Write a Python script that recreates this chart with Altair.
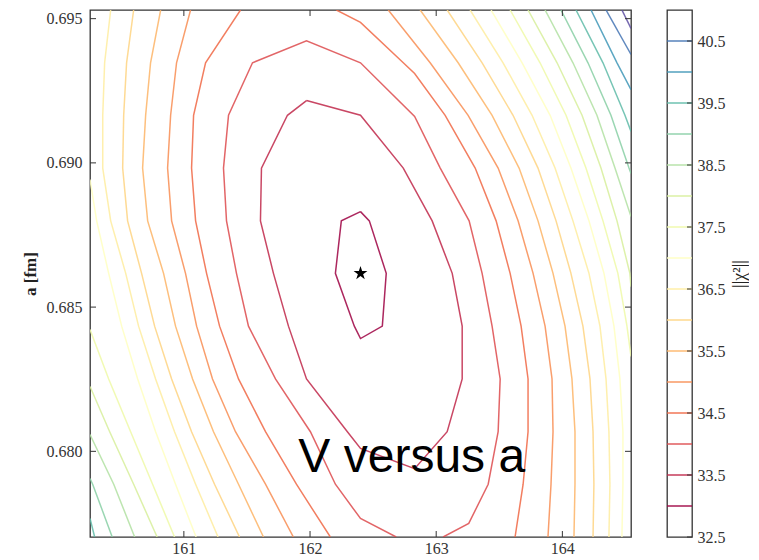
import altair as alt
import pandas as pd

# ---------------- data ----------------
V_MIN, V_MAX = 160.256, 164.544
A_MIN, A_MAX = 0.67703, 0.69530

X_TICKS = [161, 162, 163, 164]
Y_TICKS = [0.680, 0.685, 0.690, 0.695]
CB_TICKS = [32.5, 33.5, 34.5, 35.5, 36.5, 37.5, 38.5, 39.5, 40.5]

LEVELS = [33.0, 33.5, 34.0, 34.5, 35.0, 35.5, 36.0, 36.5, 37.0,
          37.5, 38.0, 38.5, 39.0, 39.5, 40.0, 40.5, 41.0]
COLORS = ["#9e0142", "#c02749", "#dd4a4c", "#f06744", "#f88d52", "#fdb466",
          "#fed481", "#feec9f", "#ffffbf", "#eff9a7", "#d7ef9b", "#b2e0a2",
          "#88cfa4", "#5fbba8", "#3f97b7", "#4373b3", "#5e4fa2"]
CB_LEVELS = [33.0, 33.5, 34.0, 34.5, 35.0, 35.5, 36.0, 36.5,
             37.0, 37.5, 38.0, 38.5, 39.0, 39.5, 40.0, 40.5]

# a-values of the rows where the contour polylines bend
ROW_A = [0.69530, 0.69347, 0.69165, 0.68982, 0.68799, 0.68617,
         0.68434, 0.68251, 0.68068, 0.67886, 0.67703]

c330_V = [162.400, 162.470, 162.604, 162.573, 162.400, 162.351, 162.201, 162.248, 162.400]
c330_a = [0.68831, 0.68799, 0.68617, 0.68434, 0.68391, 0.68434, 0.68617, 0.68799, 0.68831]

c335_V = [161.972, 161.821, 161.615, 161.607, 161.710, 161.829, 161.972, 162.296, 162.400,
          162.829, 163.087, 163.206, 163.206, 163.127, 162.968, 162.739, 162.400, 161.972]
c335_a = [0.69216, 0.69165, 0.68982, 0.68799, 0.68617, 0.68434, 0.68251, 0.68068, 0.68010,
          0.67940, 0.68068, 0.68251, 0.68434, 0.68617, 0.68799, 0.68982, 0.69165, 0.69216]

c340_V = [162.683, 162.400, 162.201, 162.003, 161.726, 161.512, 161.417, 161.338, 161.314,
          161.354, 161.544, 161.972, 162.400, 162.829, 163.032, 163.261, 163.364, 163.443,
          163.507, 163.491, 163.412, 163.258, 163.055]
c340_a = [0.67703, 0.67767, 0.67886, 0.68068, 0.68251, 0.68434, 0.68617, 0.68799, 0.68982,
          0.69165, 0.69347, 0.69423, 0.69347, 0.69161, 0.68982, 0.68799, 0.68617, 0.68434,
          0.68251, 0.68068, 0.67886, 0.67750, 0.67703]

c345L_V = [161.449, 161.172, 161.077, 161.061, 161.093, 161.180, 161.283, 161.433, 161.647, 161.892, 162.161]
c345R_V = [162.209, 162.400, 162.739, 162.829, 163.071, 163.309, 163.475, 163.586, 163.673,
           163.728, 163.728, 163.689, 163.625]
c345R_a = [0.69530, 0.69487, 0.69347, 0.69310, 0.69165, 0.68982, 0.68799, 0.68617, 0.68434,
           0.68251, 0.68068, 0.67886, 0.67703]

c350L_V = [161.053, 160.942, 160.895, 160.871, 160.903, 161.013, 161.101, 161.227, 161.409, 161.647, 161.868]
c350R_V = [162.620, 162.952, 163.253, 163.491, 163.649, 163.768, 163.863, 163.918, 163.926, 163.910, 163.886]
c355L_V = [160.816, 160.736, 160.697, 160.673, 160.713, 160.839, 160.934, 161.069, 161.235, 161.433, 161.631]
c355R_V = [162.873, 163.174, 163.443, 163.657, 163.807, 163.926, 164.021, 164.076, 164.100, 164.100, 164.092]
c360L_V = [160.602, 160.546, 160.523, 160.515, 160.554, 160.665, 160.768, 160.903, 161.061, 161.243, 161.441]
c360R_V = [163.087, 163.364, 163.609, 163.807, 163.950, 164.068, 164.163, 164.219, 164.243, 164.250, 164.243]
c365L_V = [160.420, 160.372, 160.357, 160.357, 160.420, 160.539, 160.641, 160.776, 160.926, 161.093, 161.271]
c365R_V = [163.269, 163.530, 163.760, 163.942, 164.084, 164.211, 164.298, 164.346, 164.369, 164.377, 164.369]
c370R_V = [163.435, 163.681, 163.903, 164.068, 164.211, 164.330, 164.409, 164.456, 164.480, 164.480, 164.472]

c370L_V = [160.256, 160.309, 160.404, 160.507, 160.634, 160.776, 160.934, 161.097]
c370L_a = [0.68942, 0.68799, 0.68617, 0.68434, 0.68251, 0.68068, 0.67886, 0.67703]
c375L_V = [160.256, 160.404, 160.578, 160.752, 160.926]
c375L_a = [0.68422, 0.68251, 0.68068, 0.67886, 0.67703]
c375R_V = [163.586, 163.823, 164.029, 164.187, 164.322, 164.440, 164.512, 164.544]
c375R_a = [0.69530, 0.69347, 0.69165, 0.68982, 0.68799, 0.68617, 0.68434, 0.68329]
c380L_V = [160.256, 160.412, 160.602, 160.788]
c380L_a = [0.68225, 0.68068, 0.67886, 0.67703]
c380R_V = [163.728, 163.958, 164.156, 164.306, 164.433, 164.535, 164.544]
c380R_a = [0.69530, 0.69347, 0.69165, 0.68982, 0.68799, 0.68617, 0.68571]
c385L_V = [160.256, 160.444, 160.610]
c385L_a = [0.68058, 0.67886, 0.67703]
c385R_V = [163.863, 164.084, 164.274, 164.417, 164.544]
c385R_a = [0.69530, 0.69347, 0.69165, 0.68982, 0.68814]
c390L_V = [160.256, 160.277, 160.432]
c390L_a = [0.67906, 0.67886, 0.67703]
c390R_V = [163.989, 164.203, 164.385, 164.528, 164.544]
c390R_a = [0.69530, 0.69347, 0.69165, 0.68982, 0.68963]
c395L_V = [160.256, 160.293]
c395L_a = [0.67767, 0.67703]
c395R_V = [164.108, 164.322, 164.496, 164.544]
c395R_a = [0.69530, 0.69347, 0.69165, 0.69109]
c400R_V = [164.227, 164.433, 164.544]
c400R_a = [0.69530, 0.69347, 0.69254]
c405R_V = [164.346, 164.544]
c405R_a = [0.69530, 0.69376]
c410R_V = [164.472, 164.544]
c410R_a = [0.69530, 0.69466]

STAR_V, STAR_A = [162.400], [0.68617]
LABEL_V, LABEL_A, LABEL_TEXT = [162.806], [0.67930], ["V versus a"]

PIECES = [
    (33.0, "33.0", c330_V, c330_a),
    (33.5, "33.5", c335_V, c335_a),
    (34.0, "34.0", c340_V, c340_a),
    (34.5, "34.5L", c345L_V, ROW_A),
    (34.5, "34.5R", c345R_V, c345R_a),
    (35.0, "35.0L", c350L_V, ROW_A),
    (35.0, "35.0R", c350R_V, ROW_A),
    (35.5, "35.5L", c355L_V, ROW_A),
    (35.5, "35.5R", c355R_V, ROW_A),
    (36.0, "36.0L", c360L_V, ROW_A),
    (36.0, "36.0R", c360R_V, ROW_A),
    (36.5, "36.5L", c365L_V, ROW_A),
    (36.5, "36.5R", c365R_V, ROW_A),
    (37.0, "37.0L", c370L_V, c370L_a),
    (37.0, "37.0R", c370R_V, ROW_A),
    (37.5, "37.5L", c375L_V, c375L_a),
    (37.5, "37.5R", c375R_V, c375R_a),
    (38.0, "38.0L", c380L_V, c380L_a),
    (38.0, "38.0R", c380R_V, c380R_a),
    (38.5, "38.5L", c385L_V, c385L_a),
    (38.5, "38.5R", c385R_V, c385R_a),
    (39.0, "39.0L", c390L_V, c390L_a),
    (39.0, "39.0R", c390R_V, c390R_a),
    (39.5, "39.5L", c395L_V, c395L_a),
    (39.5, "39.5R", c395R_V, c395R_a),
    (40.0, "40.0R", c400R_V, c400R_a),
    (40.5, "40.5R", c405R_V, c405R_a),
    (41.0, "41.0R", c410R_V, c410R_a),
]

# ---------------- build tables ----------------
rows = []
for lvl, piece, vs, avals in PIECES:
    for i, (v, a) in enumerate(zip(vs, avals)):
        rows.append({"level": f"{lvl:.1f}", "piece": piece, "i": i, "V": v, "a": a})
contours = pd.DataFrame(rows)

W, H = 541, 527
CBW = 25
SERIF = "Liberation Serif"
TICK = "#333333"

xscale = alt.Scale(domain=[V_MIN, V_MAX], nice=False, zero=False)
yscale = alt.Scale(domain=[A_MIN, A_MAX], nice=False, zero=False)
cscale = alt.Scale(domain=[f"{l:.1f}" for l in LEVELS], range=COLORS)

lines = alt.Chart(contours).mark_line(strokeWidth=1.5, opacity=0.85, clip=True).encode(
    x=alt.X("V:Q", scale=xscale,
            axis=alt.Axis(values=X_TICKS, format="d", title=None, ticks=False, tickSize=0,
                          labelPadding=3, grid=False, domain=False)),
    y=alt.Y("a:Q", scale=yscale,
            axis=alt.Axis(values=Y_TICKS, format=".3f", title="a [fm]", ticks=False, tickSize=0,
                          labelPadding=8, titlePadding=7, grid=False, domain=False,
                          titleFontWeight="bold", titleFontSize=17)),
    color=alt.Color("level:N", scale=cscale, legend=None),
    detail="piece:N",
    order="i:Q",
)

star = alt.Chart(pd.DataFrame({"V": STAR_V, "a": STAR_A})).mark_point(
    shape="M0,-1L0.2245,-0.309L0.951,-0.309L0.363,0.118L0.588,0.809L0,0.382L-0.588,0.809L-0.363,0.118L-0.951,-0.309L-0.2245,-0.309Z",
    size=210, filled=True, color="black", opacity=1, strokeWidth=0,
).encode(x="V:Q", y="a:Q")

label = alt.Chart(pd.DataFrame({"V": LABEL_V, "a": LABEL_A, "t": LABEL_TEXT})).mark_text(
    font="Liberation Sans", fontSize=48, align="center", baseline="alphabetic", color="black",
).encode(x="V:Q", y="a:Q", text="t:N")

xt = pd.DataFrame({"V": X_TICKS})
yt = pd.DataFrame({"a": Y_TICKS})
tick_b = alt.Chart(xt).mark_rule(color=TICK, strokeWidth=1).encode(
    x="V:Q", y=alt.value(H), y2=alt.value(H - 6))
tick_t = alt.Chart(xt).mark_rule(color=TICK, strokeWidth=1).encode(
    x="V:Q", y=alt.value(0), y2=alt.value(6))
tick_l = alt.Chart(yt).mark_rule(color=TICK, strokeWidth=1).encode(
    y="a:Q", x=alt.value(0), x2=alt.value(6))
tick_r = alt.Chart(yt).mark_rule(color=TICK, strokeWidth=1).encode(
    y="a:Q", x=alt.value(W), x2=alt.value(W - 6))

main = alt.layer(lines, star, label, tick_b, tick_t, tick_l, tick_r).properties(width=W, height=H)

# ---------------- colour bar ----------------
cbscale = alt.Scale(domain=[32.5, 41.0], nice=False, zero=False)
cb_df = pd.DataFrame({"level": [f"{l:.1f}" for l in CB_LEVELS], "val": CB_LEVELS})
cb_lines = alt.Chart(cb_df).mark_rule(strokeWidth=1.6, opacity=0.85).encode(
    y=alt.Y("val:Q", scale=cbscale,
            axis=alt.Axis(orient="right", values=CB_TICKS, format=".1f", title="||χ²||",
                          titleAngle=270, titleBaseline="top", titleFontWeight="normal",
                          titleFontSize=18, ticks=False, tickSize=0, labelPadding=5,
                          titlePadding=5, grid=False, domain=False)),
    x=alt.value(0), x2=alt.value(CBW),
    color=alt.Color("level:N", scale=cscale, legend=None),
)
cb_ticks = alt.Chart(pd.DataFrame({"val": CB_TICKS})).mark_rule(color=TICK, strokeWidth=1).encode(
    y="val:Q", x=alt.value(CBW - 5), x2=alt.value(CBW))
colorbar = alt.layer(cb_lines, cb_ticks).properties(width=CBW, height=H)

chart = alt.hconcat(main, colorbar, spacing=32).properties(
    padding={"left": 12, "top": 0, "right": 0, "bottom": 2},
    background="white",
).configure_view(stroke="#333333", strokeWidth=1.3).configure_axis(
    labelFont=SERIF, labelFontSize=16, labelColor="#333333",
    titleFont=SERIF, titleColor="#222222",
)

chart.save("out.html", embed_options={"renderer": "svg", "actions": False})
